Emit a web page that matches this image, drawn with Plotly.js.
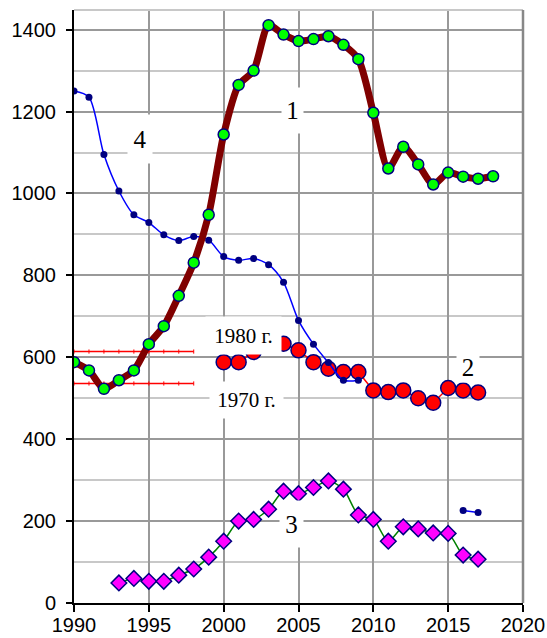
<!DOCTYPE html>
<html>
<head>
<meta charset="utf-8">
<script src="https://cdn.plot.ly/plotly-3.0.1.min.js"></script>
<style>html,body{margin:0;padding:0;background:#fff;}#chart{width:547px;height:638px;}</style>
</head>
<body>
<div id="chart"></div>
<script>
// Series 1 (thick maroon line, green markers)
var years1 = [1990,1991,1992,1993,1994,1995,1996,1997,1998,1999,2000,2001,2002,2003,2004,2005,2006,2007,2008,2009,2010,2011,2012,2013,2014,2015,2016,2017,2018];
var values1 = [588,568,523,544,568,632,676,750,831,948,1144,1265,1300,1411,1388,1372,1377,1384,1363,1328,1197,1061,1114,1071,1022,1051,1041,1036,1042];

// Series 2 (red circles)
var years2 = [2000,2001,2002,2003,2004,2005,2006,2007,2008,2009,2010,2011,2012,2013,2014,2015,2016,2017];
var values2 = [588,588,613,628,633,617,588,572,564,564,519,515,519,500,489,525,519,514];

// Series 3 (magenta diamonds)
var years3 = [1993,1994,1995,1996,1997,1998,1999,2000,2001,2002,2003,2004,2005,2006,2007,2008,2009,2010,2011,2012,2013,2014,2015,2016,2017];
var values3 = [49,60,53,53,68,83,112,151,200,204,229,273,267,282,298,278,215,204,151,186,181,171,170,117,107];

// Series 4 (thin blue line, navy dots)
var years4 = [1990,1991,1992,1993,1994,1995,1996,1997,1998,1999,2000,2001,2002,2003,2004,2005,2006,2007,2008,2009];
var values4 = [1250,1235,1095,1006,948,929,899,885,895,886,846,837,841,826,783,690,632,587,544,544];
var years4b = [2016,2017];
var values4b = [226,221];

// Reference levels (red horizontal lines)
var refYears = [1990,1991,1992,1993,1994,1995,1996,1997,1998];
var ref1980 = [614,614,614,614,614,614,614,614,614];
var ref1970 = [536,536,536,536,536,536,536,536,536];

// Text labels
var labelTexts = ["1","2","3","4","1980 г.","1970 г."];
var labelX = [2004.6, 2016.35, 2004.55, 1994.4, 2001.33, 2001.5];
var labelY = [1202, 577, 193, 1133, 654, 495];

var navy = '#000080';
var traces = [
  {x: refYears, y: ref1980, mode: 'lines+markers', line: {color: '#ff0000', width: 1.5},
   marker: {symbol: 'line-ns', size: 3, line: {color: '#ff0000', width: 1}}, hoverinfo: 'skip'},
  {x: refYears, y: ref1970, mode: 'lines+markers', line: {color: '#ff0000', width: 1.5},
   marker: {symbol: 'line-ns', size: 3, line: {color: '#ff0000', width: 1}}, hoverinfo: 'skip'},
  {x: years2, y: values2, mode: 'lines+markers', line: {color: '#ff0000', width: 1.5},
   marker: {symbol: 'circle', size: 15, color: '#ff0000', line: {color: navy, width: 1.5}}},
  {x: years4, y: values4, mode: 'lines+markers', line: {color: '#0000ff', width: 1.5, shape: 'spline', smoothing: 0.8},
   marker: {symbol: 'circle', size: 7, color: navy}},
  {x: years4b, y: values4b, mode: 'lines+markers', line: {color: '#0000ff', width: 1.5},
   marker: {symbol: 'circle', size: 7, color: navy}},
  {x: years1, y: values1, mode: 'lines+markers', line: {color: '#800000', width: 7, shape: 'spline', smoothing: 0.7},
   marker: {symbol: 'circle', size: 11, color: '#00ff00', line: {color: navy, width: 1.5}}},
  {x: years3, y: values3, mode: 'lines+markers', line: {color: '#008000', width: 1.5, shape: 'spline', smoothing: 0.8},
   marker: {symbol: 'diamond', size: 12, color: '#ff00ff', line: {color: navy, width: 1.5}}}
];

var boxW = [21, 22, 23, 24, 75, 73];
var boxH = [45, 30, 46, 48, 37, 36];
var boxFont = [25, 25, 25, 25, 21, 21];
var annotations = labelTexts.map(function (t, i) {
  return {x: labelX[i], y: labelY[i], xref: 'x', yref: 'y', text: t, showarrow: false,
    bgcolor: '#ffffff', borderpad: 0, width: boxW[i], height: boxH[i],
    font: {family: 'Liberation Serif, Times New Roman, serif', size: boxFont[i], color: '#000'}};
});

var layout = {
  width: 547, height: 638,
  margin: {l: 74, r: 24, t: 10, b: 35, pad: 0},
  paper_bgcolor: '#fff', plot_bgcolor: '#fff',
  showlegend: false,
  font: {family: 'Liberation Sans, Arial, sans-serif', size: 20, color: '#000'},
  xaxis: {range: [1990, 2020], tick0: 1990, dtick: 5, ticks: 'outside', ticklen: 7, tickwidth: 2, tickcolor: '#000',
    showline: true, linecolor: '#000', linewidth: 2, showgrid: true, gridcolor: '#999999', gridwidth: 2,
    zeroline: false, tickfont: {size: 20}, ticklabelstandoff: -4},
  yaxis: {range: [0, 1448], tick0: 0, dtick: 200, ticks: 'outside', ticklen: 6, tickwidth: 2, tickcolor: '#000',
    showline: true, linecolor: '#000', linewidth: 2, showgrid: true, gridcolor: '#999999', gridwidth: 2,
    zeroline: false, tickfont: {size: 20}, ticklabelstandoff: 6,
    minor: {dtick: 100, tick0: 0, showgrid: true, gridcolor: '#c8c8c8', gridwidth: 2, ticks: ''}},
  shapes: [
    {type: 'line', xref: 'paper', yref: 'paper', x0: 0, x1: 1, y0: 1, y1: 1, line: {color: '#c8c8c8', width: 2}},
    {type: 'line', xref: 'paper', yref: 'paper', x0: 1, x1: 1, y0: 0, y1: 1, line: {color: '#888888', width: 2.5}}
  ],
  annotations: annotations
};

Plotly.newPlot('chart', traces, layout, {displayModeBar: false, staticPlot: true});
</script>
</body>
</html>
